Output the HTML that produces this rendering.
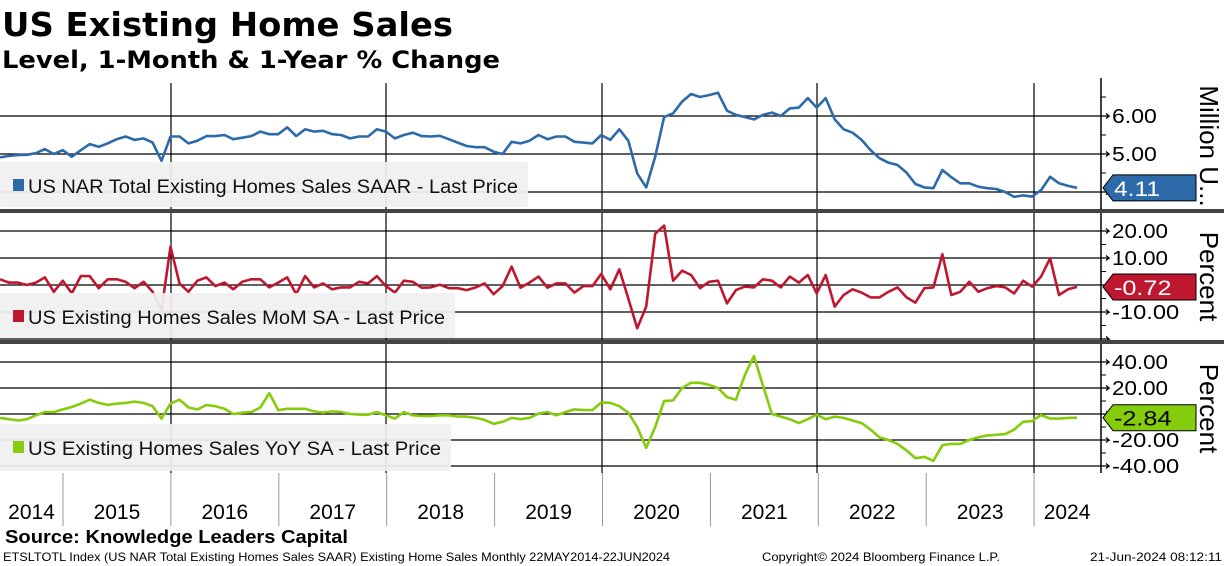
<!DOCTYPE html>
<html><head><meta charset="utf-8">
<style>
html,body{margin:0;padding:0;background:#fff;}
svg{display:block;font-family:"Liberation Sans",sans-serif;}
</style></head>
<body>
<svg id="chart" width="1224" height="566" viewBox="0 0 1224 566" xmlns="http://www.w3.org/2000/svg">
<rect x="0" y="0" width="1224" height="566" fill="#fff"/>
<text x="2" y="36" font-family="DejaVu Sans, sans-serif" font-weight="bold" font-size="33" textLength="451" lengthAdjust="spacingAndGlyphs">US Existing Home Sales</text>
<text x="2" y="68" font-family="DejaVu Sans, sans-serif" font-weight="bold" font-size="24" textLength="498" lengthAdjust="spacingAndGlyphs">Level, 1-Month &amp; 1-Year % Change</text>
<g id="grid"></g>
<g id="marks"></g>
<g id="over"></g>
<text x="5" y="543" font-weight="bold" font-size="18" textLength="343" lengthAdjust="spacingAndGlyphs">Source: Knowledge Leaders Capital</text>
<text x="3" y="561" font-size="12" textLength="667" lengthAdjust="spacingAndGlyphs">ETSLTOTL Index (US NAR Total Existing Homes Sales SAAR) Existing Home Sales  Monthly 22MAY2014-22JUN2024</text>
<text x="762" y="561" font-size="12" textLength="238" lengthAdjust="spacingAndGlyphs">Copyright© 2024 Bloomberg Finance L.P.</text>
<text x="1090" y="561" font-size="12" textLength="132" lengthAdjust="spacingAndGlyphs">21-Jun-2024 08:12:11</text>
</svg>
<script>
const yearLabels = ["2014","2015","2016","2017","2018","2019","2020","2021","2022","2023","2024"];
const levelTicks = [4, 5, 6];
const levelTickLabels = ["", "5.00", "6.00"];
const momTicks = [20, 10, 0, -10, -20];
const momTickLabels = ["20.00", "10.00", "", "-10.00", ""];
const yoyTicks = [40, 20, 0, -20, -40];
const yoyTickLabels = ["40.00", "20.00", "", "-20.00", "-40.00"];
const levelValues = [4.91,4.95,4.97,4.98,5.02,5.13,5.0,5.1,4.93,5.1,5.26,5.19,5.28,5.39,5.46,5.37,5.41,5.3,4.82,5.46,5.46,5.28,5.35,5.47,5.47,5.5,5.39,5.43,5.47,5.59,5.52,5.52,5.7,5.47,5.65,5.59,5.61,5.52,5.5,5.41,5.46,5.46,5.65,5.59,5.41,5.5,5.56,5.47,5.46,5.48,5.39,5.3,5.21,5.18,5.18,5.06,5.0,5.32,5.28,5.35,5.5,5.39,5.46,5.46,5.32,5.3,5.28,5.5,5.37,5.65,5.35,4.49,4.12,4.93,5.97,6.07,6.38,6.58,6.5,6.55,6.61,6.14,6.03,5.97,5.91,6.03,6.09,6.0,6.2,6.22,6.47,6.22,6.47,5.91,5.65,5.56,5.37,5.1,4.89,4.77,4.71,4.51,4.21,4.12,4.1,4.58,4.39,4.23,4.23,4.14,4.1,4.08,4.0,3.87,3.91,3.88,4.05,4.4,4.23,4.16,4.11];
const momValues = [2.1,0.9,0.9,0,0.9,2.8,-2.5,1.6,-3.1,3.3,3.3,-1.2,2.1,2.1,1.2,-1.2,1.2,-2.5,-9.3,14.2,0.6,-2.5,1.6,2.8,-0.4,0.9,-1.6,1.2,2.1,2.1,-0.9,0.9,2.8,-3.4,3.3,-0.9,0.6,-1.6,-0.9,-0.9,1.2,0.6,3.3,-0.4,-2.8,1.6,1.2,-1.0,-0.9,0.1,-1.2,-1.2,-1.9,-0.9,0.6,-3.4,-0.4,6.8,-1.0,0.9,3.1,-1.0,0.6,0.6,-2.8,-0.4,-0.4,4.1,-1.6,5.8,-5,-16,-8,19,22,1.6,5.3,3.7,-1.2,1.2,1.6,-6.8,-1.9,-0.6,-0.9,2.1,1.6,-0.9,3.1,0.9,3.7,-3.1,3.7,-8,-3.7,-1.6,-2.8,-4.6,-4.6,-2.5,-0.9,-4.6,-6.5,-1.2,-0.9,11.4,-3.7,-2.5,1.2,-2.5,-1.2,-0.4,-0.9,-3.1,1.6,-0.6,3.1,9.9,-3.7,-1.6,-0.72];
const yoyValues = [-3,-4,-5,-4,-1,1.5,1.5,3.5,5.4,8,11,8.5,7,8,8.5,9.5,8.5,6,-3.5,8,11,5,3.5,6.9,6,4,0,1,1.5,5,16,3,4,4,4,2,1,2,1.5,0,-0.5,-0.6,1.5,-1,-3.5,1.5,-1,-1.5,-1.5,-1,-1,-2,-2,-3,-4.5,-7.5,-6,-3,-4,-3,0.5,1.5,-1,1.5,3.5,3,3,9,8.5,6,1,-10,-26,-10,10,10.5,20,24,24,22.5,20,13,11,30,44.6,22,0,-2,-4,-7,-4,-0.5,-4,-2,-3,-5,-7,-12,-18,-20,-23,-28,-34,-33,-36,-24,-23,-23,-20,-18,-16.5,-16,-15.5,-12,-6,-5.5,-0.8,-3.5,-3.5,-3,-2.84];
const lastLevel = "4.11", lastMom = "-0.72", lastYoy = "-2.84";

const NS = "http://www.w3.org/2000/svg";
const grid = document.getElementById('grid'), marks = document.getElementById('marks'), over = document.getElementById('over');
function mk(tag, attrs, parent){ const e=document.createElementNS(NS,tag); for(const k in attrs) e.setAttribute(k,attrs[k]); parent.appendChild(e); return e; }
const PLOT_R = 1101, STEP = 8.975;
const xAt = i => i*STEP;
const yearX = y => 63 + (y-2015)*107.9;
const panels = [
  {top:83,bottom:209,v0:5,y0:154,ppu:38,ticks:levelTicks,labels:levelTickLabels,minor:[4.5,5.5,6.5],vals:levelValues,color:"#2d6aa9",name:"level",legend:"US NAR Total Existing Homes Sales SAAR - Last Price",lbox:[162,528],last:lastLevel,axisTitle:"Million U...",tx:"#fff"},
  {top:213,bottom:340,v0:0,y0:285,ppu:2.7,ticks:momTicks,labels:momTickLabels,minor:[15,5,-5,-15],vals:momValues,color:"#bf1730",name:"mom",legend:"US Existing Homes Sales MoM SA - Last Price",lbox:[293,455],last:lastMom,axisTitle:"Percent",tx:"#fff"},
  {top:344,bottom:473,v0:0,y0:414,ppu:1.3,ticks:yoyTicks,labels:yoyTickLabels,minor:[30,10,-10,-30],vals:yoyValues,color:"#84cc0c",name:"yoy",legend:"US Existing Homes Sales YoY SA - Last Price",lbox:[424,451],last:lastYoy,axisTitle:"Percent",tx:"#000"}
];
// bottom axis year lines
for(let y=2015;y<=2024;y++){
  const l=mk('line',{x1:yearX(y),x2:yearX(y),y1:473,y2:526,stroke:'#999','stroke-width':1},grid);
  
  
}
yearLabels.forEach((lab,k)=>{
  const y=2014+k;
  const a = y===2014?0:yearX(y), b = y===2024?1100:yearX(y+1);
  const t=mk('text',{x:(a+b)/2,y:519,'text-anchor':'middle','font-size':21},grid);
  t.textContent=lab;
  
  
});
panels.forEach((p,pi)=>{
  const yv = v => p.y0 - (v-p.v0)*p.ppu;
  p.ticks.forEach((v,k)=>{
    const y=yv(v);
    const g=mk('line',{x1:0,x2:PLOT_R,y1:y,y2:y,stroke:'#000','stroke-width':1.2},grid);
    
    
    mk('path',{d:`M${PLOT_R} ${y} h8 l-3 -2.5 M${PLOT_R+8} ${y} l-3 2.5`,stroke:'#000','stroke-width':1.2,fill:'none'},grid);
    if(p.labels[k]){
      const t=mk('text',{x:1112,y:y+7,'font-size':20,textLength:p.labels[k].length*11.2,lengthAdjust:'spacingAndGlyphs'},grid);
      t.textContent=p.labels[k];
      
      
    }
  });
  p.minor.forEach(v=>{ mk('line',{x1:PLOT_R,x2:PLOT_R+5,y1:yv(v),y2:yv(v),stroke:'#000','stroke-width':1},grid); });
  [171,386,602,817,1034].forEach(x=>{ mk('line',{x1:x,x2:x,y1:p.top,y2:p.bottom,stroke:'#000','stroke-width':1.2},grid); });
  const ax=mk('line',{x1:PLOT_R,x2:PLOT_R,y1:p.top-5,y2:p.bottom,stroke:'#000','stroke-width':1.5},grid);
  
  
  // axis title
  const at=mk('text',{x:0,y:0,'font-size':26,transform:`translate(1200,${(p.top+p.bottom)/2}) rotate(90)`,'text-anchor':'middle'},grid);
  at.textContent=p.axisTitle;
  
  
  // series line
  const d=p.vals.map((v,i)=>(i?'L':'M')+xAt(i).toFixed(1)+' '+yv(v).toFixed(1)).join(' ');
  const ln=mk('path',{d:d,fill:'none',stroke:p.color,'stroke-width':2.6,'stroke-linejoin':'round'},marks);
  
  
  // legend box
  const lb=mk('g',{},over);
  
  
  mk('rect',{x:0,y:p.lbox[0],width:p.lbox[1],height:p.bottom-p.lbox[0]-2,fill:'#f0f0f0','fill-opacity':0.93,rx:2},lb);
  mk('rect',{x:13,y:p.lbox[0]+17,width:11,height:12,fill:p.color},lb);
  const lt=mk('text',{x:28,y:p.lbox[0]+31,'font-size':19,fill:'#111',textLength:p.legend.length*11.66*(p.lbox[1]-38)/ (p.legend.length*11.66),lengthAdjust:'spacingAndGlyphs'},lb);
  lt.textContent=p.legend;
  // last value tag
  const last=p.vals[p.vals.length-1], ly=yv(last);
  const tag=mk('g',{},over);
  
  
  mk('path',{d:`M1103 ${ly} L1113 ${ly-13} H1196 V${ly+13} H1113 Z`,fill:p.color,stroke:'#000','stroke-width':1},tag);
  const tt=mk('text',{x:1114,y:ly+8,'font-size':21,fill:p.tx,textLength:p.last.length*11.5,lengthAdjust:'spacingAndGlyphs'},tag);
  tt.textContent=p.last;
  // separator
  const sep=mk('rect',{x:0,y:p.bottom,width:1224,height:4,fill:'#444'},over);
  if(pi===2) sep.setAttribute('height',0);
  
  
});
</script>
</body></html>
